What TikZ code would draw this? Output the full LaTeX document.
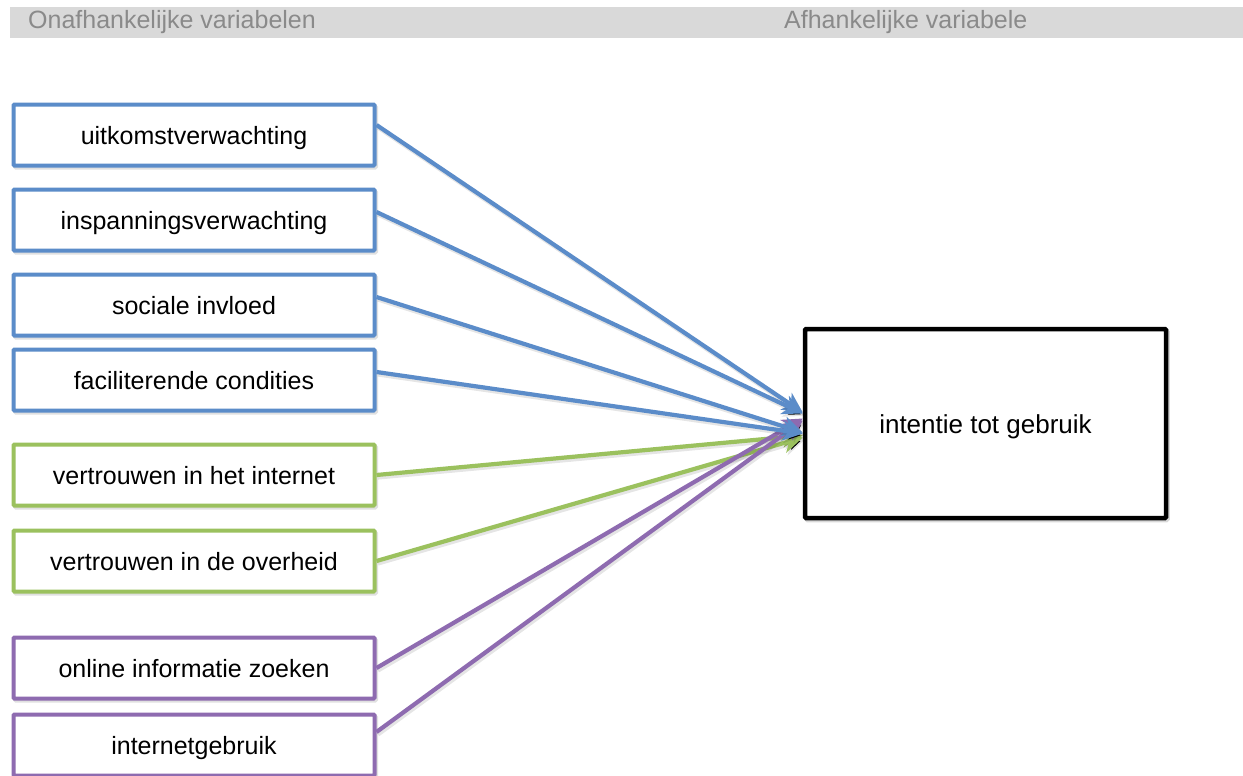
\documentclass[tikz,border=0pt]{standalone}
\usepackage{fontspec}
\setmainfont{Liberation Sans}
\usetikzlibrary{arrows.meta}
\definecolor{ivblue}{HTML}{5B8CC9}
\definecolor{ivgreen}{HTML}{9BC15E}
\definecolor{ivpurple}{HTML}{8E6BB0}
\definecolor{hdrgray}{HTML}{D9D9D9}
\definecolor{hdrtext}{HTML}{8A8A8A}
\begin{document}
\begin{tikzpicture}[x=1pt,y=-1pt,
  varbox/.style={draw=#1, line width=4pt, fill=white, rounded corners=1pt,
    minimum width=361pt, minimum height=61pt, inner sep=0pt,
    text height=19pt, text depth=0pt,
    font=\fontsize{25}{30}\selectfont,
    preaction={draw=black, draw opacity=0.12, line width=4pt, fill=none,
      transform canvas={shift={(1.5pt,-2pt)}}}},
  depbox/.style={draw=black, line width=4.5pt, fill=white, rounded corners=1pt,
    minimum width=361pt, minimum height=189pt, inner sep=0pt,
    text height=19pt, text depth=0pt,
    font=\fontsize{26}{30}\selectfont,
    preaction={draw=black, draw opacity=0.15, line width=4.5pt, fill=none,
      transform canvas={shift={(1.5pt,-2pt)}}}},
  link/.style={draw=#1, line width=4.2pt,
    -{Stealth[length=20pt,width=20pt,inset=6pt]},
    preaction={draw=black, draw opacity=0.1, line width=4.2pt,
      transform canvas={shift={(1.5pt,-2.5pt)}}}},
  hdr/.style={text=hdrtext, font=\fontsize{25}{28}\selectfont, anchor=west, inner sep=0pt}
]
\useasboundingbox (0,0) rectangle (1243,776);
\fill[white] (0,0) rectangle (1243,776);

% header bar
\fill[hdrgray] (10,7) rectangle (1243,38);
\node[hdr] (hleft) at (28,22) {Onafhankelijke variabelen};
\node[hdr] (hright) at (784,22) {Afhankelijke variabele};

% independent variables
\node[varbox=ivblue] (b1) at (194,135) {uitkomstverwachting};
\node[varbox=ivblue] (b2) at (194,220) {inspanningsverwachting};
\node[varbox=ivblue] (b3) at (194,305) {sociale invloed};
\node[varbox=ivblue] (b4) at (194,380) {faciliterende condities};
\node[varbox=ivgreen] (b5) at (194,475) {vertrouwen in het internet};
\node[varbox=ivgreen] (b6) at (194,561) {vertrouwen in de overheid};
\node[varbox=ivpurple] (b7) at (194,668) {online informatie zoeken};
\node[varbox=ivpurple] (b8) at (194,745) {internetgebruik};

% dependent variable
\node[depbox] (dv) at (985.5,423.5) {intentie tot gebruik};

% connectors
\draw[link=ivblue] ([yshift=10pt]b1.east) -- ([yshift=11pt]dv.west);
\draw[link=ivblue] ([yshift=8pt]b2.east) -- ([yshift=10pt]dv.west);
\draw[link=ivgreen] (b5.east) -- ([yshift=-12pt]dv.west);
\draw[link=ivgreen] (b6.east) -- ([yshift=-14pt]dv.west);
\draw[link=ivpurple] (b7.east) -- ([yshift=5pt]dv.west);
\draw[link=ivpurple] ([yshift=13pt]b8.east) -- ([yshift=3pt]dv.west);
\draw[link=ivblue] ([yshift=8pt]b3.east) -- ([yshift=-9pt]dv.west);
\draw[link=ivblue] ([yshift=8pt]b4.east) -- ([yshift=-10pt]dv.west);
\end{tikzpicture}
\end{document}
